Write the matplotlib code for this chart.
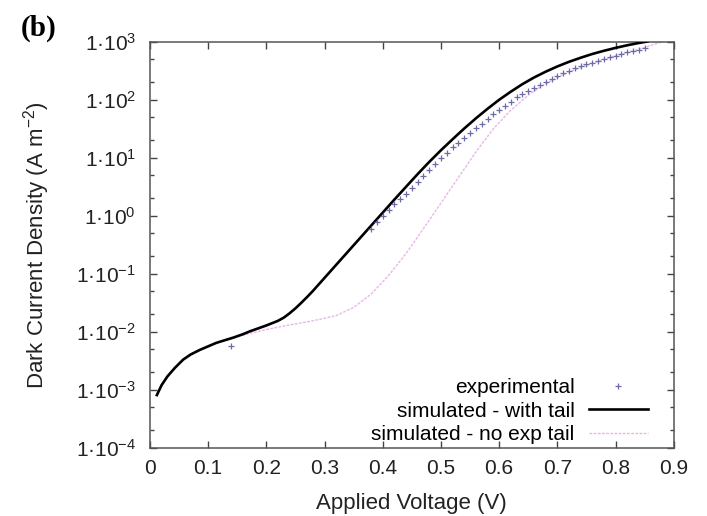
import numpy as np
import matplotlib
matplotlib.use("Agg")
import matplotlib.pyplot as plt
from matplotlib.ticker import LogLocator, NullFormatter

plt.rcParams['font.family'] = ['Liberation Sans', 'DejaVu Sans']
plt.rcParams['mathtext.fontset'] = 'custom'
plt.rcParams['mathtext.rm'] = 'Liberation Sans'
plt.rcParams['mathtext.it'] = 'Liberation Sans'
plt.rcParams['mathtext.default'] = 'regular'

# simulated - with tail (log10 of current density, A m^-2)
v_tail = [0.012, 0.02, 0.03, 0.043, 0.057, 0.07, 0.086, 0.1, 0.114, 0.13,
          0.143, 0.16, 0.172, 0.186, 0.2, 0.21, 0.22, 0.23, 0.24, 0.25,
          0.26, 0.27, 0.28, 0.30,
          0.32, 0.34, 0.36, 0.38, 0.40, 0.42, 0.44, 0.46, 0.48, 0.50,
          0.52, 0.54, 0.56, 0.58, 0.60, 0.62, 0.64, 0.66, 0.68, 0.70,
          0.72, 0.74, 0.76, 0.78, 0.80, 0.82, 0.84, 0.855]
logj_tail = [-3.09, -2.92, -2.77, -2.62, -2.48, -2.39, -2.31, -2.25, -2.19, -2.14,
             -2.10, -2.04, -1.99, -1.94, -1.89, -1.85, -1.81, -1.755, -1.68, -1.595,
             -1.50, -1.40, -1.295, -1.07,
             -0.845, -0.62, -0.395, -0.17, 0.055, 0.28, 0.50, 0.72, 0.93, 1.13,
             1.32, 1.505, 1.68, 1.845, 2.0, 2.14, 2.27, 2.385, 2.485, 2.575,
             2.655, 2.725, 2.79, 2.845, 2.895, 2.94, 2.98, 3.005]

# simulated - no exp tail
v_notail = [0.012, 0.03, 0.057, 0.086, 0.114, 0.143, 0.17, 0.2, 0.24, 0.28,
            0.32, 0.35, 0.38, 0.41, 0.44, 0.47, 0.5, 0.53, 0.56, 0.59,
            0.62, 0.65, 0.68, 0.72, 0.76, 0.8, 0.84, 0.88]
logj_notail = [-3.09, -2.77, -2.48, -2.31, -2.19, -2.11, -2.03, -1.96, -1.88, -1.81,
               -1.72, -1.58, -1.35, -1.03, -0.65, -0.22, 0.22, 0.66, 1.1, 1.5,
               1.82, 2.08, 2.28, 2.48, 2.63, 2.76, 2.87, 3.0]

# experimental
v_exp = [0.14, 0.38, 0.39, 0.40, 0.41, 0.42, 0.43, 0.44, 0.45, 0.46, 0.47,
         0.48, 0.49, 0.50, 0.51, 0.52, 0.53, 0.54, 0.55, 0.56, 0.57,
         0.58, 0.59, 0.60, 0.61, 0.62, 0.63, 0.64, 0.65, 0.66, 0.67,
         0.68, 0.69, 0.70, 0.71, 0.72, 0.73, 0.74, 0.75, 0.76, 0.77,
         0.78, 0.79, 0.80, 0.81, 0.82, 0.83, 0.84, 0.85]
logj_exp = [-2.25, -0.22, -0.11, 0.0, 0.10, 0.20, 0.29, 0.38, 0.48, 0.59, 0.69,
            0.79, 0.89, 0.99, 1.09, 1.18, 1.26, 1.35, 1.43, 1.51, 1.59,
            1.67, 1.75, 1.83, 1.90, 1.97, 2.04, 2.10, 2.16, 2.21, 2.26,
            2.31, 2.36, 2.41, 2.46, 2.50, 2.54, 2.58, 2.61, 2.64, 2.67,
            2.70, 2.73, 2.76, 2.79, 2.82, 2.84, 2.86, 2.89]

x_ticks = [0, 0.1, 0.2, 0.3, 0.4, 0.5, 0.6, 0.7, 0.8, 0.9]
x_labels = ['0', '0.1', '0.2', '0.3', '0.4', '0.5', '0.6', '0.7', '0.8', '0.9']
y_exps = [-4, -3, -2, -1, 0, 1, 2, 3]

fs = 16

fig = plt.figure(figsize=(7.07, 5.16), dpi=100)
ax = fig.add_axes([0.212, 0.132, 0.741, 0.787])

ax.plot(v_notail, 10 ** np.array(logj_notail), color='#d070cc', lw=1.0,
        ls=(0, (2, 1)), alpha=0.5, label='simulated - no exp tail', zorder=2)
ax.plot(v_tail, 10 ** np.array(logj_tail), color='black', lw=1.9,
        label='simulated - with tail', zorder=3)
ax.plot(v_exp, 10 ** np.array(logj_exp), ls='none', marker='+', ms=5, mew=0.9,
        color='#6c6ca8', label='experimental', zorder=4)

ax.set_yscale('log')
ax.set_xlim(0, 0.9)
ax.set_ylim(1e-4, 1e3)
ax.set_xticks(x_ticks)
ax.set_xticklabels(x_labels)
ax.set_yticks([10.0 ** e for e in y_exps])
ax.set_yticklabels([r'1·10$^{%d}$' % e for e in y_exps])
ax.yaxis.set_minor_locator(LogLocator(base=10, subs=(2, 5)))
ax.yaxis.set_minor_formatter(NullFormatter())

ax.tick_params(which='both', direction='in', top=True, right=True,
               labelsize=15, colors='#444444', labelcolor='#222222')
ax.tick_params(which='major', length=5, width=1)
ax.tick_params(which='minor', length=3, width=1)
ax.tick_params(axis='x', pad=8)
ax.tick_params(axis='y', pad=10)
for s in ax.spines.values():
    s.set_color('#555555')
    s.set_linewidth(1.1)

ax.set_xlabel('Applied Voltage (V)', fontsize=fs, color='#222222', labelpad=11)
ax.set_ylabel(r'Dark Current Density (A m$^{-2}$)', fontsize=fs, color='#222222',
              labelpad=17)

handles, labels = ax.get_legend_handles_labels()
order = [2, 1, 0]
ax.legend([handles[i] for i in order], [labels[i] for i in order],
          loc='lower right', bbox_to_anchor=(0.95, 0.01), frameon=False,
          markerfirst=False, fontsize=15, handlelength=2.8, handletextpad=0.7,
          labelspacing=0.2, borderaxespad=0.0, borderpad=0.0)

fig.text(0.03, 0.972, '(b)', fontsize=21, fontweight='bold',
         family='Liberation Serif', va='top', ha='left')

fig.savefig('out.png', dpi=100)
